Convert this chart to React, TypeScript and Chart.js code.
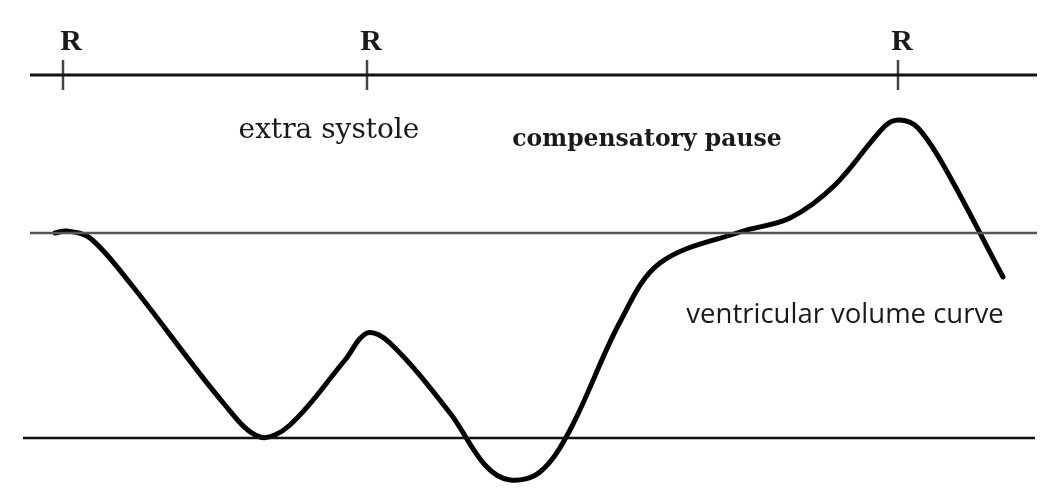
import React, { useEffect, useRef } from 'react';
import { Chart, registerables } from 'chart.js';

Chart.register(...registerables);

// Ventricular volume curve (time units, volume units)
const curveTime = [55, 67, 90, 130, 225, 260, 290, 345, 367, 390, 450, 485, 510, 540, 570, 620, 660, 740, 790, 835, 885, 900, 918, 945, 1003];
const curveVolume = [264, 266, 259, 214, 92, 60, 72, 137, 164, 154, 84, 32, 17, 25, 67, 175, 234, 265, 279, 312, 371, 377, 369, 329, 220];

// ECG time line with R waves
const ecgLineStart = 30;
const ecgLineEnd = 1037;
const ecgLevel = 422;
const rWaveTimes = [63, 367, 898];
const rWaveLabels = ['R', 'R', 'R'];
const rLabelTimes = [71, 371, 902];
const rTickHalf = 15;
const rLabelLevel = 455;

// Reference volume levels
const upperLevel = 264;
const upperStart = 30;
const upperEnd = 1037;
const lowerLevel = 59;
const lowerStart = 23;
const lowerEnd = 1035;

// Annotations
const annotationTexts = ['extra systole', 'compensatory pause', 'ventricular volume curve'];
const annotationTimes = [329, 647, 845];
const annotationLevels = [366, 357, 182];
const annotationFonts = [
  'normal 28px "DejaVu Serif"',
  'bold 23.5px "DejaVu Serif"',
  'normal 27.5px "Open Sans"',
];

const textPlugin = {
  id: 'diagramText',
  afterDatasetsDraw(chart: any) {
    const ctx = chart.ctx;
    const xs = chart.scales.x;
    const ys = chart.scales.y;
    ctx.save();
    ctx.fillStyle = '#1a1a1a';
    ctx.textAlign = 'center';
    ctx.textBaseline = 'middle';
    ctx.font = 'bold 30px "Liberation Serif"';
    rLabelTimes.forEach((t, i) => {
      ctx.fillText(rWaveLabels[i], xs.getPixelForValue(t), ys.getPixelForValue(rLabelLevel));
    });
    annotationTexts.forEach((txt, i) => {
      ctx.font = annotationFonts[i];
      ctx.fillText(txt, xs.getPixelForValue(annotationTimes[i]), ys.getPixelForValue(annotationLevels[i]));
    });
    ctx.restore();
  },
};

export default function App() {
  const canvasRef = useRef<HTMLCanvasElement | null>(null);

  useEffect(() => {
    if (!canvasRef.current) return;
    const flat = (x1: number, x2: number, y: number) => [
      { x: x1, y },
      { x: x2, y },
    ];
    const tickSets = rWaveTimes.map((t) => ({
      data: [
        { x: t, y: ecgLevel - rTickHalf },
        { x: t, y: ecgLevel + rTickHalf },
      ],
      borderColor: '#444',
      borderWidth: 2.5,
      pointRadius: 0,
      tension: 0,
    }));
    const chart = new Chart(canvasRef.current, {
      type: 'line',
      data: {
        datasets: [
          {
            data: flat(ecgLineStart, ecgLineEnd, ecgLevel),
            borderColor: '#111',
            borderWidth: 3,
            pointRadius: 0,
            tension: 0,
          },
          ...tickSets,
          {
            data: flat(upperStart, upperEnd, upperLevel),
            borderColor: '#555',
            borderWidth: 2.5,
            pointRadius: 0,
            tension: 0,
          },
          {
            data: flat(lowerStart, lowerEnd, lowerLevel),
            borderColor: '#111',
            borderWidth: 2.5,
            pointRadius: 0,
            tension: 0,
          },
          {
            data: curveTime.map((t, i) => ({ x: t, y: curveVolume[i] })),
            borderColor: '#000',
            borderWidth: 5,
            pointRadius: 0,
            tension: 0.35,
            borderCapStyle: 'round',
            borderJoinStyle: 'round',
          },
        ] as any,
      },
      options: {
        animation: false,
        responsive: false,
        layout: { padding: 0 },
        plugins: { legend: { display: false }, tooltip: { enabled: false } },
        scales: {
          x: { type: 'linear', min: 0, max: 1051, display: false },
          y: { type: 'linear', min: 0, max: 497, display: false },
        },
      },
      plugins: [textPlugin],
    });
    return () => chart.destroy();
  }, []);

  return (
    <div style={{ position: 'absolute', left: 0, top: 0, width: 1051, height: 497, background: '#fff' }}>
      <canvas ref={canvasRef} width={1051} height={497} style={{ width: 1051, height: 497, display: 'block' }} />
    </div>
  );
}
